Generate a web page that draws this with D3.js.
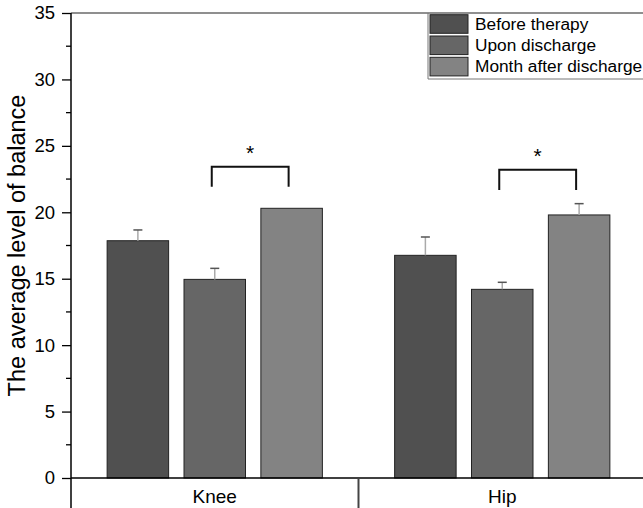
<!DOCTYPE html>
<html>
<head>
<meta charset="utf-8">
<script src="https://cdn.jsdelivr.net/npm/d3@7/dist/d3.min.js"></script>
<style>
  html, body { margin: 0; padding: 0; background: #fff; }
  svg { display: block; font-family: "Liberation Sans", Arial, sans-serif; }
</style>
</head>
<body>
<svg id="chart" width="643" height="508"></svg>
<script>
// data
const categories = ["Knee", "Hip"];
const seriesNames = ["Before therapy", "Upon discharge", "Month after discharge"];
const beforeTherapy = [17.86, 16.76];
const uponDischarge = [14.95, 14.2];
const monthAfter = [20.3, 19.8];
const beforeErr = [0.81, 1.38];
const uponErr = [0.83, 0.53];
const monthErr = [0, 0.85];
const yTicks = [0, 5, 10, 15, 20, 25, 30, 35];
// significance brackets: category, series pair, top and foot value
const brackets = [
  { cat: "Knee", from: 1, to: 2, top: 23.43, foot: 21.93 },
  { cat: "Hip", from: 1, to: 2, top: 23.2, foot: 21.68 }
];

const colors = ["#505050", "#666666", "#838383"];
const means = [beforeTherapy, uponDischarge, monthAfter];
const errs = [beforeErr, uponErr, monthErr];

const bars = [];
categories.forEach(function (c, ci) {
  seriesNames.forEach(function (s, si) {
    bars.push({ cat: c, series: s, si: si, value: means[si][ci], err: errs[si][ci] });
  });
});

const svg = d3.select("#chart");
const plotLeft = 71, plotRight = 646, plotTop = 13, plotBottom = 478;

const y = d3.scaleLinear().domain([0, 35]).range([plotBottom, plotTop]);
const x0 = d3.scaleBand().domain(categories).range([plotLeft, plotRight]);
const x1 = d3.scaleBand().domain(seriesNames).range([0, x0.bandwidth()])
  .paddingInner(0.2).paddingOuter(0.47);

// top frame line
svg.append("line")
  .attr("x1", plotLeft).attr("x2", 643).attr("y1", plotTop).attr("y2", plotTop)
  .attr("stroke", "#6a6a6a").attr("stroke-width", 1.3);

// bars
svg.append("g").selectAll("rect")
  .data(bars)
  .enter().append("rect")
  .attr("x", d => x0(d.cat) + x1(d.series))
  .attr("y", d => y(d.value))
  .attr("width", x1.bandwidth())
  .attr("height", d => y(0) - y(d.value))
  .attr("fill", d => colors[d.si])
  .attr("stroke", "#222")
  .attr("stroke-width", 1);

// error bars
const eb = svg.append("g").selectAll("g")
  .data(bars.filter(d => d.err > 0))
  .enter().append("g");
eb.append("line")
  .attr("x1", d => x0(d.cat) + x1(d.series) + x1.bandwidth() / 2)
  .attr("x2", d => x0(d.cat) + x1(d.series) + x1.bandwidth() / 2)
  .attr("y1", d => y(d.value))
  .attr("y2", d => y(d.value + d.err))
  .attr("stroke", "#aaa").attr("stroke-width", 1.5);
eb.append("line")
  .attr("x1", d => x0(d.cat) + x1(d.series) + x1.bandwidth() / 2 - 4.5)
  .attr("x2", d => x0(d.cat) + x1(d.series) + x1.bandwidth() / 2 + 4.5)
  .attr("y1", d => y(d.value + d.err))
  .attr("y2", d => y(d.value + d.err))
  .attr("stroke", "#555").attr("stroke-width", 1.5);

// significance brackets
const br = svg.append("g").selectAll("g")
  .data(brackets)
  .enter().append("g");
br.append("path")
  .attr("d", function (d) {
    const xa = x0(d.cat) + x1(seriesNames[d.from]) + x1.bandwidth() / 2 - 3;
    const xb = x0(d.cat) + x1(seriesNames[d.to]) + x1.bandwidth() / 2 - 3;
    return "M" + xa + "," + y(d.foot) + "V" + y(d.top) + "H" + xb + "V" + y(d.foot);
  })
  .attr("fill", "none").attr("stroke", "#111").attr("stroke-width", 2);
br.append("text")
  .attr("x", d => x0(d.cat) + (x1(seriesNames[d.from]) + x1(seriesNames[d.to]) + x1.bandwidth()) / 2 - 3)
  .attr("y", d => y(d.top) - 7)
  .attr("text-anchor", "middle")
  .style("font-size", "21px")
  .text("*");

// y axis
const yAxis = svg.append("g")
  .attr("transform", "translate(" + plotLeft + ",0)")
  .call(d3.axisLeft(y).tickValues(yTicks).tickSize(9).tickPadding(7).tickSizeOuter(0));
yAxis.select(".domain").remove();
yAxis.selectAll("line").attr("stroke", "#000").attr("stroke-width", 1.3);
yAxis.selectAll("text").style("font-size", "18.5px").attr("fill", "#000");
svg.append("g").selectAll("line")
  .data(yTicks.slice(0, -1).map(v => v + 2.5))
  .enter().append("line")
  .attr("x1", plotLeft - 5).attr("x2", plotLeft)
  .attr("y1", d => y(d)).attr("y2", d => y(d))
  .attr("stroke", "#000").attr("stroke-width", 1.3);
svg.append("line")
  .attr("x1", plotLeft).attr("x2", plotLeft).attr("y1", plotTop).attr("y2", 508)
  .attr("stroke", "#000").attr("stroke-width", 1.5);

// x axis with category labels
svg.append("line")
  .attr("x1", plotLeft).attr("x2", 643).attr("y1", plotBottom).attr("y2", plotBottom)
  .attr("stroke", "#000").attr("stroke-width", 1.5);
svg.append("g").selectAll("line")
  .data(categories.slice(1))
  .enter().append("line")
  .attr("x1", d => x0(d)).attr("x2", d => x0(d))
  .attr("y1", plotBottom).attr("y2", 508)
  .attr("stroke", "#444").attr("stroke-width", 2);
svg.append("g").selectAll("text")
  .data(categories)
  .enter().append("text")
  .attr("x", d => x0(d) + x0.bandwidth() / 2)
  .attr("y", 503)
  .attr("text-anchor", "middle")
  .style("font-size", "19px")
  .text(d => d);

// y title
svg.append("text")
  .attr("transform", "translate(25," + (plotTop + plotBottom) / 2 + ") rotate(-90)")
  .attr("text-anchor", "middle")
  .style("font-size", "23.5px")
  .text("The average level of balance");

// legend
const lg = svg.append("g").attr("transform", "translate(428,13)");
lg.append("path")
  .attr("d", "M0,0V66H220")
  .attr("fill", "none").attr("stroke", "#777").attr("stroke-width", 1);
const item = lg.selectAll("g.item")
  .data(seriesNames)
  .enter().append("g")
  .attr("class", "item")
  .attr("transform", (d, i) => "translate(2," + (1.7 + i * 21.3) + ")");
item.append("rect")
  .attr("width", 38).attr("height", 18.6)
  .attr("fill", (d, i) => colors[i])
  .attr("stroke", "#222").attr("stroke-width", 1);
item.append("text")
  .attr("x", 45).attr("y", 15)
  .style("font-size", "17.3px")
  .text(d => d);
</script>
</body>
</html>
